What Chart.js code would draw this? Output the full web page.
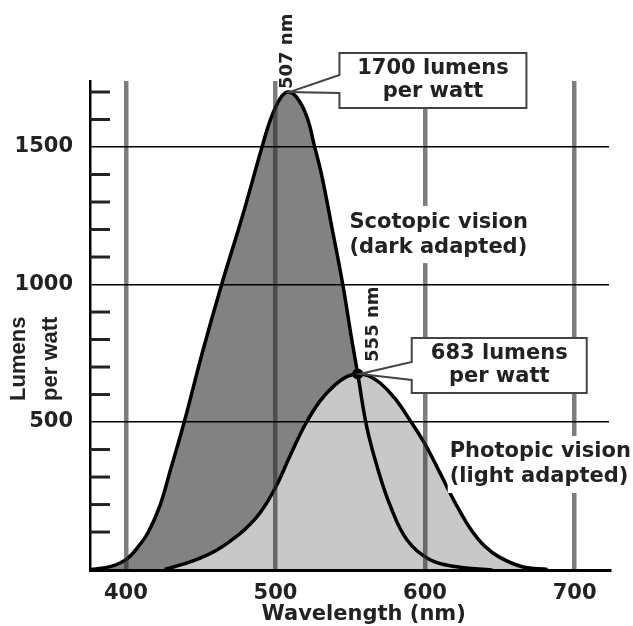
<!DOCTYPE html>
<html>
<head>
<meta charset="utf-8">
<script src="https://cdn.jsdelivr.net/npm/chart.js@4.4.0/dist/chart.umd.min.js"></script>
<style>
  html, body { margin: 0; padding: 0; background: #fff; }
</style>
</head>
<body>
<canvas id="chart" width="633" height="626"></canvas>
<script>
// values (nm, lumens per watt)
const scotopicNm = [369, 380, 390, 400, 408, 415, 423, 430, 439, 451, 464, 478, 491, 497, 503, 508, 514, 521, 526, 531, 538, 545, 551, 555, 561, 568, 577, 588, 603, 620, 645];
const scotopicLm = [-38, -34, -25, 0, 45, 100, 200, 330, 500, 750, 1000, 1250, 1500, 1605, 1675, 1700, 1682, 1610, 1505, 1395, 1200, 1000, 800, 675, 483, 337, 192, 71, 0, -25, -38];
const photopicNm = [426, 440, 450, 460, 470, 480, 490, 500, 510, 520, 530, 540, 548, 555, 562, 570, 580, 590, 600, 610, 620, 630, 640, 650, 665, 682];
const photopicLm = [-36, -14, 6, 32, 68, 112, 172, 262, 380, 492, 578, 636, 666, 675, 669, 642, 585, 506, 420, 315, 208, 115, 48, 8, -26, -36];
const peakNm = [508, 555];
const peakLm = [1700, 675];
const xTicks = [400, 500, 600, 700];
const yTicks = [0, 100, 200, 300, 400, 500, 600, 700, 800, 900, 1000, 1100, 1200, 1300, 1400, 1500, 1600, 1700];
const yLabels = [500, 1000, 1500];

const FONT = '"DejaVu Sans", sans-serif';
const TEXT = '#222';

const toPoints = (xs, ys) => xs.map((v, i) => ({x: v, y: ys[i]}));

const annotations = {
  id: 'annotations',
  afterDraw(chart) {
    const ctx = chart.ctx;
    const x = chart.scales.x;
    const y = chart.scales.y;
    const font = size => 'bold ' + size + 'px ' + FONT;

    ctx.save();

    // short ticks on the inside of the y axis
    ctx.strokeStyle = '#222';
    ctx.lineWidth = 3;
    yTicks.forEach(v => {
      if (v === 0 || yLabels.includes(v)) return;
      const py = y.getPixelForValue(v);
      ctx.beginPath();
      ctx.moveTo(x.left, py);
      ctx.lineTo(x.left + 20, py);
      ctx.stroke();
    });

    // axis titles
    ctx.fillStyle = TEXT;
    ctx.font = font(21);
    ctx.textAlign = 'center';
    ctx.textBaseline = 'alphabetic';
    ctx.fillText('Wavelength (nm)', x.getPixelForValue(559), 620);

    ctx.save();
    ctx.translate(0, y.getPixelForValue(730));
    ctx.rotate(-Math.PI / 2);
    ctx.font = 'bold 22px "Liberation Sans", Arial, sans-serif';
    ctx.fillText('Lumens', 0, 25);
    ctx.fillText('per watt', 0, 57);
    ctx.restore();

    const label = (lines, nm, lm) => {
      const lx = x.getPixelForValue(nm);
      const ly = y.getPixelForValue(lm);
      ctx.font = font(21);
      const w = Math.max(...lines.map(t => ctx.measureText(t).width));
      ctx.fillStyle = '#fff';
      ctx.fillRect(lx - 2, ly - 16, w + 6, lines.length * 25 + 7);
      ctx.fillStyle = TEXT;
      ctx.textAlign = 'left';
      ctx.textBaseline = 'middle';
      lines.forEach((t, i) => ctx.fillText(t, lx, ly + i * 25));
    };

    const callout = (nm, lm, dx, dy, w, h, a1, a2, lines) => {
      const px = x.getPixelForValue(nm);
      const py = y.getPixelForValue(lm);
      const left = px + dx;
      const top = py + dy;
      ctx.fillStyle = '#fff';
      ctx.fillRect(left, top, w, h);
      ctx.strokeStyle = '#444';
      ctx.lineWidth = 2;
      ctx.beginPath();
      ctx.moveTo(left, py + a1);
      ctx.lineTo(left, top);
      ctx.lineTo(left + w, top);
      ctx.lineTo(left + w, top + h);
      ctx.lineTo(left, top + h);
      ctx.lineTo(left, py + a2);
      ctx.lineTo(px + 2, py);
      ctx.closePath();
      ctx.stroke();
      ctx.font = font(21);
      ctx.fillStyle = TEXT;
      ctx.textAlign = 'center';
      ctx.textBaseline = 'middle';
      ctx.fillText(lines[0], left + w / 2, top + 16);
      ctx.fillText(lines[1], left + w / 2, top + 39);
    };

    const vtext = (t, nm, lm, dx, dy) => {
      ctx.save();
      ctx.translate(x.getPixelForValue(nm) + dx, y.getPixelForValue(lm) + dy);
      ctx.rotate(-Math.PI / 2);
      ctx.font = font(18);
      ctx.fillStyle = TEXT;
      ctx.textAlign = 'left';
      ctx.textBaseline = 'middle';
      ctx.fillText(t, 0, 0);
      ctx.restore();
    };

    label(['Scotopic vision', '(dark adapted)'], 549.5, 1227);
    label(['Photopic vision', '(light adapted)'], 616.5, 391);

    callout(peakNm[0], peakLm[0], 52, -39, 187, 55, -17, 1, ['1700 lumens', 'per watt']);
    callout(peakNm[1], peakLm[1], 54, -36, 175, 55, -12, 6, ['683 lumens', 'per watt']);

    vtext('507 nm', peakNm[0], peakLm[0], 0, -3);
    vtext('555 nm', peakNm[1], peakLm[1], 16, -12);

    ctx.restore();
  }
};

new Chart(document.getElementById('chart'), {
  type: 'line',
  data: {
    datasets: [
      {
        type: 'scatter',
        data: [{x: peakNm[1], y: peakLm[1]}],
        pointRadius: 5.5,
        pointBackgroundColor: '#000',
        pointBorderWidth: 0,
        showLine: false
      },
      {
        label: 'Photopic vision',
        data: toPoints(photopicNm, photopicLm),
        borderColor: '#000',
        borderWidth: 3.5,
        backgroundColor: '#c8c8c8',
        fill: 'start',
        pointRadius: 0,
        tension: 0.4
      },
      {
        label: 'Scotopic vision',
        data: toPoints(scotopicNm, scotopicLm),
        borderColor: '#000',
        borderWidth: 3.5,
        backgroundColor: '#828282',
        fill: 'start',
        pointRadius: 0,
        tension: 0.4
      }
    ]
  },
  options: {
    responsive: false,
    animation: false,
    layout: { padding: { top: 81, right: 24, left: 0, bottom: 0 } },
    plugins: {
      legend: { display: false },
      tooltip: { enabled: false },
      filler: { drawTime: 'beforeDatasetsDraw' }
    },
    scales: {
      x: {
        type: 'linear',
        min: 376,
        max: 723,
        afterBuildTicks: s => { s.ticks = xTicks.map(v => ({value: v})); },
        afterFit: s => { s.height = 56; },
        grid: { color: 'rgba(45,45,45,0.62)', lineWidth: 4.5, drawTicks: false, z: 1 },
        border: { color: '#000', width: 3, z: 1 },
        ticks: {
          autoSkip: false,
          maxRotation: 0,
          padding: 11,
          color: TEXT,
          font: { family: FONT, weight: 'bold', size: 21 }
        }
      },
      y: {
        type: 'linear',
        min: -38,
        max: 1740,
        afterBuildTicks: s => { s.ticks = yTicks.map(v => ({value: v})); },
        afterFit: s => { s.width = 90; },
        grid: {
          color: c => (c.tick && yLabels.includes(c.tick.value)) ? '#000' : 'rgba(0,0,0,0)',
          lineWidth: 1.5,
          drawTicks: false,
          z: 1
        },
        border: { color: '#000', width: 2.5, z: 1 },
        ticks: {
          autoSkip: false,
          padding: 17,
          color: TEXT,
          font: { family: FONT, weight: 'bold', size: 21 },
          callback: v => yLabels.includes(v) ? String(v) : ''
        }
      }
    }
  },
  plugins: [annotations]
});
</script>
</body>
</html>
